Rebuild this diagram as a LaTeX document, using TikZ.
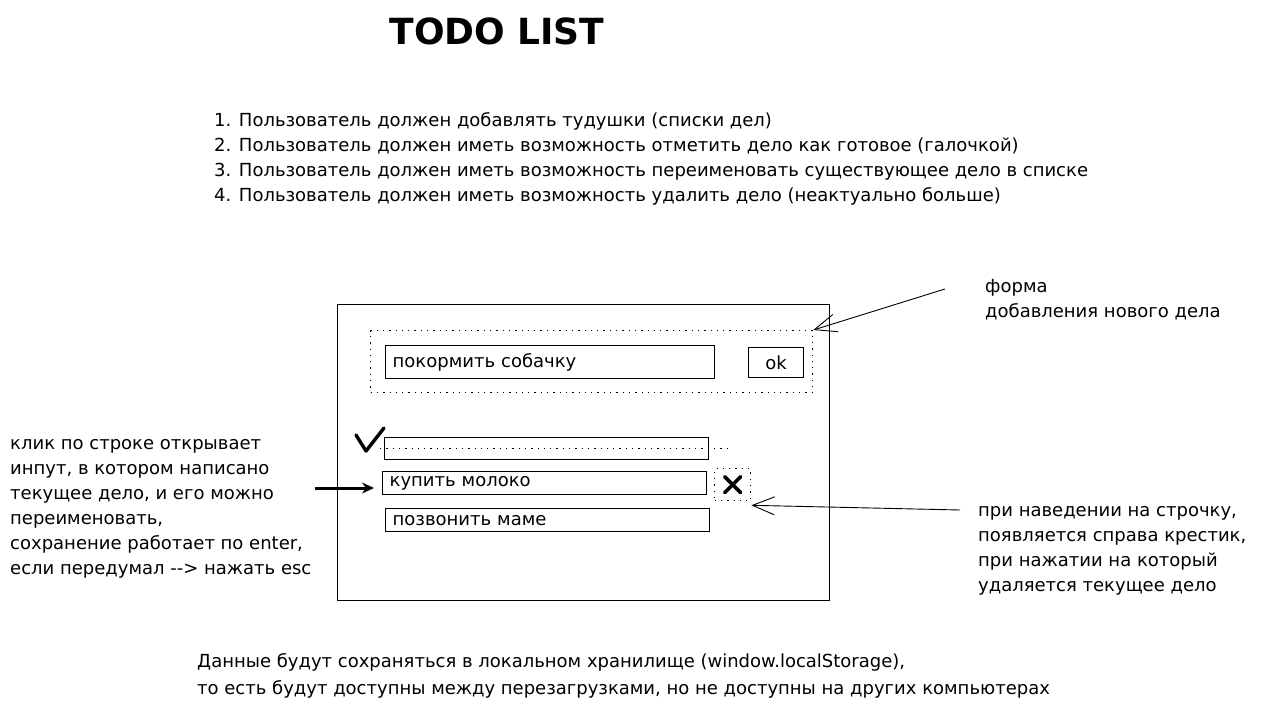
\documentclass[tikz,border=0pt]{standalone}
\usepackage{fontspec}
\setmainfont{DejaVu Sans}
\usetikzlibrary{arrows.meta}
\begin{document}
\begin{tikzpicture}
          [x=1pt,y=-1pt,every node/.style={inner sep=0pt,font=\fontsize{18}{25}\selectfont},
           field/.style={draw,line width=1.3pt,minimum height=23pt,anchor=north west},
           dots/.style={line width=1.3pt,dash pattern=on 1.3pt off 5pt},
           note/.style={anchor=west,align=left},
           hint/.style={->,>={Straight Barb[length=22pt,width=18pt]},line width=0.9pt}]
        \useasboundingbox (0,0) rectangle (1262,709);

        \node (title) at (497,31) {\fontsize{36}{40}\selectfont\bfseries TODO LIST};

        \node[note] (reqs) at (214,159) {1. Пользователь должен добавлять тудушки (списки дел)\\
          2. Пользователь должен иметь возможность отметить дело как готовое (галочкой)\\
          3. Пользователь должен иметь возможность переименовать существующее дело в списке\\
          4. Пользователь должен иметь возможность удалить дело (неактуально больше)};

        \node[draw,line width=1.1pt,minimum width=492pt,minimum height=296pt,anchor=north west] (app) at (337,304) {};
        \node[draw,dots,minimum width=442pt,minimum height=62pt,anchor=north west] (form) at (370,330) {};

        \node[field,minimum width=329pt,minimum height=33pt,text width=315pt,align=left] (newtask) at (385,345) {покормить собачку};
        \node[field,minimum width=55pt,minimum height=30pt] (ok) at (748,347) {ok};

        \node[field,minimum width=324pt,minimum height=22pt] (done) at (384,437) {};
        \node[field,minimum width=324pt,text width=310pt,align=left] (milk) at (382,471) {купить молоко};
        \node[field,minimum width=324pt,text width=310pt,align=left] (mom) at (385,508) {позвонить маме};
        \node[draw,dots,minimum width=36pt,minimum height=32pt,anchor=north west] (del) at (714,468) {};

        \draw[line width=3.4pt,line cap=round,line join=round] (356,435) -- (366,451) -- (384,428);
        \draw[dots] ([xshift=-4pt]done.west) -- ([xshift=20pt]done.east);
        \draw[line width=3.6pt,line cap=round] ([shift={(-8pt,-8pt)}]del.center) -- ([shift={(8pt,8pt)}]del.center)
          ([shift={(8pt,-8pt)}]del.center) -- ([shift={(-8pt,8pt)}]del.center);

        \node[note] (formnote) at (985,299.5) {форма\\добавления нового дела};
        \node[note] (editnote) at (10,509) {клик по строке открывает\\инпут, в котором написано\\текущее дело, и его можно\\переименовать,\\сохранение работает по enter,\\если передумал -{}-> нажать esc};
        \node[note] (delnote) at (978,550.5) {при наведении на строчку,\\появляется справа крестик,\\при нажатии на который\\удаляется текущее дело};
        \node[note,font=\fontsize{18}{27}\selectfont] (storage) at (197,675.5) {Данные будут сохраняться в локальном хранилище (window.localStorage),\\
          то есть будут доступны между перезагрузками, но не доступны на других компьютерах};

        \coordinate (formtail) at (945,289);
        \coordinate (deltail) at (960,510);
        \coordinate (edittail) at (315,488);

        \draw[hint] (formtail) -- (form.north east);
        \draw[hint] (deltail) -- ([yshift=-4pt]del.south east);
        \draw[->,>={Stealth[length=12pt,width=11pt]},line width=3pt] (edittail) -- (edittail -| milk.west) [shorten >=8pt];
\end{tikzpicture}
\end{document}
